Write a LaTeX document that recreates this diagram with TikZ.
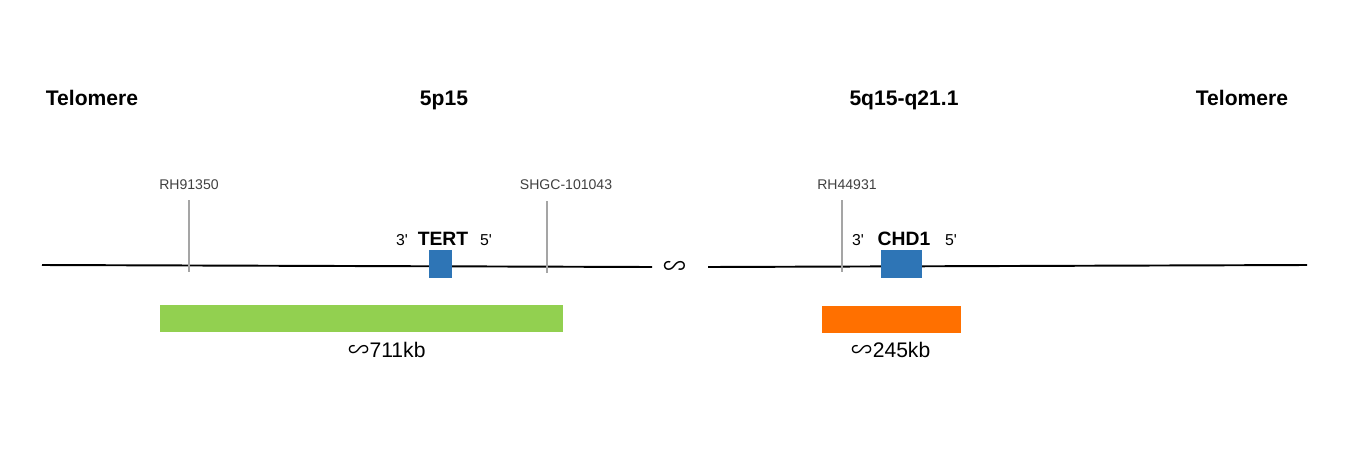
\documentclass[tikz,border=0pt]{standalone}
\usepackage{fontspec}
\setmainfont{Liberation Sans}
\newfontfamily\symfont{Noto Sans CJK SC}
\usetikzlibrary{positioning}

\definecolor{genebox}{RGB}{46,117,182}
\definecolor{probegreen}{RGB}{146,208,80}
\definecolor{probeorange}{RGB}{255,112,0}
\definecolor{markgray}{RGB}{165,165,165}

\tikzset{
  armlabel/.style={anchor=base, font=\bfseries\fontsize{12}{14}\selectfont},
  stslabel/.style={anchor=base, font=\fontsize{8}{9}\selectfont, text=black!75},
  stsline/.style={draw=markgray, line width=0.9pt},
  chromline/.style={draw=black, line width=1.1pt},
  genebody/.style={fill=genebox, inner sep=0pt, minimum height=0.56cm},
  genename/.style={anchor=base, font=\bfseries\fontsize{11}{13}\selectfont},
  strandend/.style={anchor=base, font=\fontsize{9}{10}\selectfont},
  probebar/.style={inner sep=0pt, minimum height=0.54cm},
  sizelabel/.style={anchor=base, font=\fontsize{12}{14}\selectfont},
}
\newcommand{\approxsym}{{\symfont\char"223D}}
\newcommand{\primesym}{\textquotesingle}

\begin{document}
\begin{tikzpicture}[x=0.02cm,y=-0.02cm]
  \useasboundingbox (0,0) rectangle (1350,454);

  % arm labels
  \node[armlabel] (telL) at (92,105) {Telomere};
  \node[armlabel] (p15) at (444,105) {5p15};
  \node[armlabel] (q15) at (904,105) {5q15-q21.1};
  \node[armlabel] (telR) at (1242,105) {Telomere};

  % chromosome
  \coordinate (chrA) at (42,265);
  \coordinate (chrB) at (652,267);
  \coordinate (chrC) at (708,267);
  \coordinate (chrD) at (1307,265);
  \draw[chromline] (chrA) -- (chrB);
  \draw[chromline] (chrC) -- (chrD);
  \node[inner sep=0pt, font=\fontsize{13}{13}\selectfont] (gap) at (675,268) {\approxsym};

  % STS markers
  \node[stslabel] (rh1) at (189,189) {RH91350};
  \node[stslabel] (shgc) at (566,189) {SHGC-101043};
  \node[stslabel] (rh2) at (847,189) {RH44931};
  \coordinate (rh1t) at (189,200);  \coordinate (rh1b) at (189,272);
  \coordinate (shgct) at (547,201); \coordinate (shgcb) at (547,273);
  \coordinate (rh2t) at (842,200);  \coordinate (rh2b) at (842,272);
  \draw[stsline] (rh1t) -- (rh1b);
  \draw[stsline] (shgct) -- (shgcb);
  \draw[stsline] (rh2t) -- (rh2b);

  % genes
  \node[genebody, minimum width=0.46cm] (tert) at (440.5,264) {};
  \node[genename] (tertlab) at (443,245) {TERT};
  \node[strandend] (tert3) at (402,245) {3\primesym};
  \node[strandend] (tert5) at (486,245) {5\primesym};

  \node[genebody, minimum width=0.82cm] (chd) at (901.5,264) {};
  \node[genename] (chdlab) at (904,245) {CHD1};
  \node[strandend] (chd3) at (858,245) {3\primesym};
  \node[strandend] (chd5) at (951,245) {5\primesym};

  % probes
  \node[probebar, fill=probegreen, minimum width=8.06cm] (tertprobe) at (361.5,318.5) {};
  \node[sizelabel] (tertsize) at (387,357) {\approxsym711kb};
  \node[probebar, fill=probeorange, minimum width=2.78cm] (chdprobe) at (891.5,319.5) {};
  \node[sizelabel] (chdsize) at (891,357) {\approxsym245kb};
\end{tikzpicture}
\end{document}
